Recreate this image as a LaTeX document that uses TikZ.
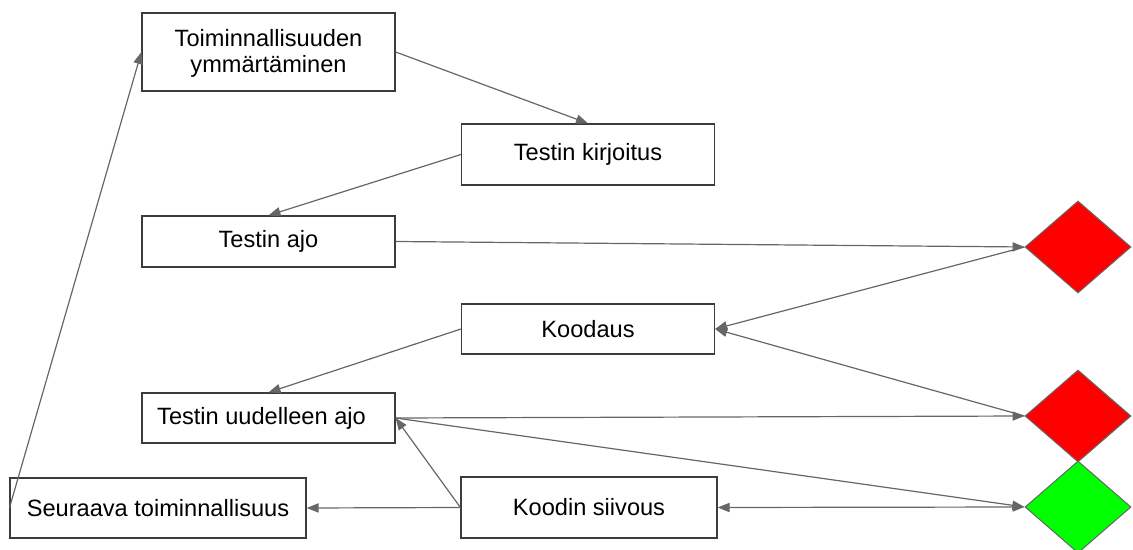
\documentclass[tikz,border=0pt]{standalone}
\usepackage{fontspec}
\setmainfont{Liberation Sans}
\usetikzlibrary{shapes.geometric,arrows.meta}
\definecolor{linegray}{HTML}{666666}
\definecolor{boxgray}{HTML}{3C3C3C}
\definecolor{failred}{HTML}{FF0000}
\definecolor{passgreen}{HTML}{00FF00}

\begin{document}
\begin{tikzpicture}[x=0.5pt,y=-0.5pt,
    font=\fontsize{11.8}{13.4}\selectfont,
    box/.style={draw=boxgray,line width=0.6pt,fill=white,align=center,
        inner sep=0pt,minimum width=126.5pt},
    dia/.style={diamond,draw=linegray,line width=0.5pt,inner sep=0pt,
        minimum width=53pt,minimum height=46pt},
    conn/.style={draw=linegray,line width=0.6pt,
        -{Triangle[length=6pt,width=4.6pt]}}
    ]
    \useasboundingbox (0,0) rectangle (1133,550);
    % Boxes
    \node[box,minimum height=39pt] (ymm) at (268.5,52) {\rule{0pt}{10pt}Toiminnallisuuden\\ ymmärtäminen};
    \node[box,minimum height=30.5pt] (kirj) at (588,154.5) {Testin kirjoitus};
    \node[box,minimum height=25.5pt] (ajo) at (268.5,241.5) {Testin ajo};
    \node[box,minimum height=25pt] (kood) at (588,329) {Koodaus};
    \node[box,minimum height=25pt] (uud) at (268.5,418) {Testin uudelleen ajo\hspace*{7pt}};
    \node[box,minimum width=148pt,minimum height=30pt] (seur) at (158,508) {Seuraava toiminnallisuus};
    \node[box,minimum width=128pt,minimum height=30.5pt] (siiv) at (589,507.5) {Koodin siivous};
    % Results
    \node[dia,fill=failred] (fail1) at (1078,247) {};
    \node[dia,fill=failred] (fail2) at (1078,416) {};
    \node[dia,fill=passgreen] (pass) at (1078,507) {};
    % Connectors
    \draw[conn] (ymm.east) -- (kirj.north);
    \draw[conn] (kirj.west) -- (ajo.north);
    \draw[conn] (ajo.east) -- (fail1.west);
    \draw[conn] (fail1.west) -- (kood.east);
    \draw[conn] (fail2.west) -- (kood.east);
    \draw[conn] (kood.west) -- (uud.north);
    \draw[conn] (uud.east) -- (fail2.west);
    \draw[conn] (uud.east) -- (pass.west);
    \draw[conn,{Triangle[length=6pt,width=4.6pt]}-{Triangle[length=6pt,width=4.6pt]}] (siiv.east) -- (pass.west);
    \draw[conn] (siiv.west) -- (uud.east);
    \draw[conn] (siiv.west) -- (seur.east);
    \draw[conn] (seur.west) -- (ymm.west);
\end{tikzpicture}
\end{document}
